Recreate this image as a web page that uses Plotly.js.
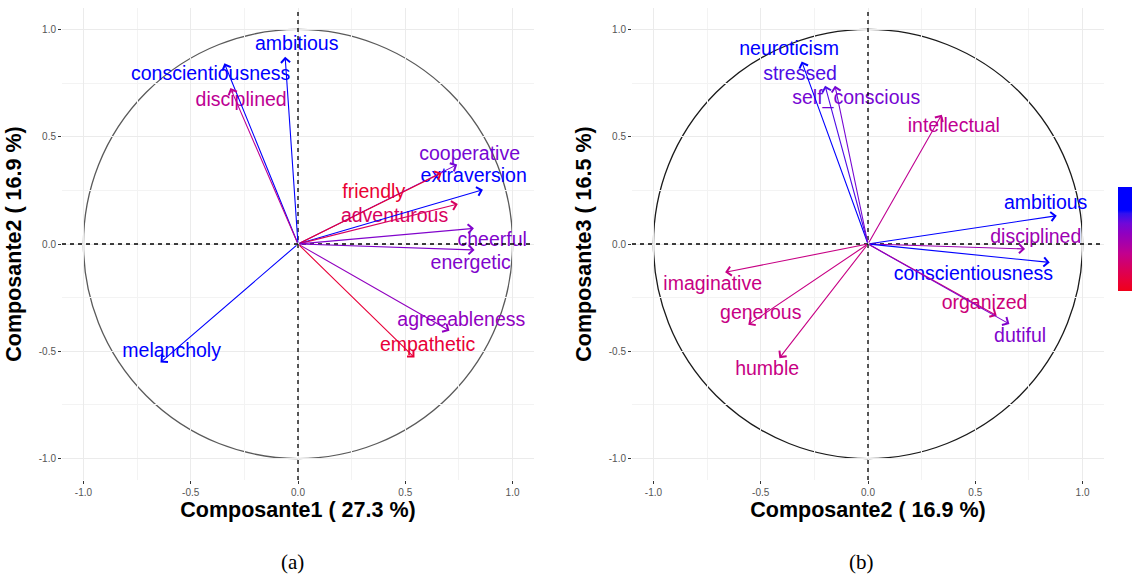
<!DOCTYPE html>
<html>
<head>
<meta charset="utf-8">
<script src="https://cdn.plot.ly/plotly-3.0.1.min.js"></script>
<style>html,body{margin:0;padding:0;background:#fff;}#chart{width:1132px;height:576px;}</style>
</head>
<body>
<div id="chart"></div>
<script>
// ---- Panel (a): Composante1 vs Composante2 ----
const namesA = ['ambitious','conscientiousness','disciplined','cooperative','friendly','extraversion','adventurous','cheerful','energetic','agreeableness','empathetic','melancholy'];
const compA1 = [-0.060,-0.343,-0.315,0.742,0.669,0.862,0.745,0.820,0.823,0.706,0.543,-0.641];
const compA2 = [0.873,0.842,0.727,0.370,0.331,0.253,0.186,0.073,-0.028,-0.404,-0.529,-0.552];
const labelAx = [-0.006,-0.407,-0.265,0.800,0.353,0.819,0.450,0.905,0.805,0.761,0.604,-0.589];
const labelAy = [0.929,0.785,0.668,0.416,0.236,0.310,0.124,0.015,-0.093,-0.358,-0.477,-0.502];
const contribA = [8.8,8.6,5.45,7.15,3.42,8.8,4.37,6.94,6.94,6.6,3.56,8.6];

// ---- Panel (b): Composante2 vs Composante3 ----
const namesB = ['neuroticism','stressed','self_conscious','intellectual','ambitious','disciplined','conscientiousness','organized','dutiful','imaginative','generous','humble'];
const compB2 = [-0.309,-0.200,-0.154,0.344,0.880,0.732,0.847,0.600,0.659,-0.666,-0.558,-0.413];
const compB3 = [0.851,0.738,0.738,0.603,0.132,-0.023,-0.086,-0.334,-0.373,-0.132,-0.376,-0.532];
const labelBx = [-0.368,-0.317,-0.055,0.400,0.828,0.782,0.491,0.543,0.709,-0.724,-0.500,-0.470];
const labelBy = [0.904,0.789,0.677,0.547,0.186,0.028,-0.145,-0.280,-0.432,-0.191,-0.326,-0.587];
const contribB = [8.8,7.62,7.15,5.38,8.8,6.27,8.8,4.91,6.94,5.11,5.11,5.11];

const axisTitles = ['Composante1 ( 27.3 %)','Composante2 ( 16.9 %)','Composante2 ( 16.9 %)','Composante3 ( 16.5 %)'];
const captions = ['(a)','(b)'];
const tickVals = [-1,-0.5,0,0.5,1];
const tickText = ['-1.0','-0.5','0.0','0.5','1.0'];
const cbTicks = [4,6,8];

const cmin = 2.88, cmax = 9.65;
const cscale = [
  [0,'#F0001A'],[0.10,'#E80038'],[0.22,'#D8005E'],[0.36,'#C2008E'],
  [0.456,'#A800A8'],[0.553,'#9000C0'],[0.65,'#7008D8'],[0.745,'#3010F0'],
  [0.78,'#0000FF'],[1,'#0000FF']
];
function hexToRgb(h){return [parseInt(h.slice(1,3),16),parseInt(h.slice(3,5),16),parseInt(h.slice(5,7),16)];}
function colorOf(v){
  let f = (v-cmin)/(cmax-cmin); f = Math.max(0,Math.min(1,f));
  for(let i=1;i<cscale.length;i++){
    if(f<=cscale[i][0]){
      const a=cscale[i-1], b=cscale[i];
      const t=(f-a[0])/(b[0]-a[0]);
      const ca=hexToRgb(a[1]), cb=hexToRgb(b[1]);
      const c=ca.map((x,k)=>Math.round(x+(cb[k]-x)*t));
      return 'rgb('+c.join(',')+')';
    }
  }
  return cscale[cscale.length-1][1];
}

const font = 'Liberation Sans, Arial, Helvetica, sans-serif';
const traces = [];
const annotations = [];
const shapes = [];

function panel(names, xs, ys, lx, ly, vals, xa, ya, showScale, circleColor){
  const cols = vals.map(colorOf);
  traces.push({
    type:'scatter', mode:'markers+text', x:lx, y:ly, text:names,
    xaxis:xa, yaxis:ya, hoverinfo:'skip', showlegend:false, cliponaxis:false,
    textposition:'middle center',
    textfont:{family:font, size:19.5, color:cols},
    marker:{size:1, opacity:0, color:vals, colorscale:cscale, cmin:cmin, cmax:cmax,
      showscale:showScale,
      colorbar:{x:1118/1132, xanchor:'left', xpad:0, ypad:0, y:(576-239)/576, yanchor:'middle',
        len:104, lenmode:'pixels', thickness:24, outlinewidth:0,
        tickvals:cbTicks, ticks:'inside', tickcolor:'#ffffff', ticklen:5,
        showticklabels:false}}
  });
  const xr = xa==='x' ? 'x' : 'x2';
  const yr = ya==='y' ? 'y' : 'y2';
  for(let i=0;i<names.length;i++){
    annotations.push({x:xs[i], y:ys[i], ax:0, ay:0, xref:xr, yref:yr, axref:xr, ayref:yr,
      text:'', showarrow:true, arrowhead:4, arrowsize:1.6, arrowwidth:1.1,
      arrowcolor:cols[i], standoff:0, startstandoff:0});
  }
  shapes.push({type:'circle', xref:xr, yref:yr, x0:-1, x1:1, y0:-1, y1:1,
    line:{color:circleColor, width:1.3}, layer:'below'});
  shapes.push({type:'line', xref:xr, yref:yr+' domain', x0:0, x1:0, y0:0, y1:1,
    line:{color:'#000', width:1.3, dash:'4px,4px'}, layer:'above'});
  shapes.push({type:'line', xref:xr+' domain', yref:yr, x0:0, x1:1, y0:0, y1:0,
    line:{color:'#000', width:1.3, dash:'4px,4px'}, layer:'above'});
}

panel(namesA, compA1, compA2, labelAx, labelAy, contribA, 'x', 'y', false, '#5a5a5a');
panel(namesB, compB2, compB3, labelBx, labelBy, contribB, 'x2', 'y2', true, '#1a1a1a');

function axis(title, domain, anchor, isY){
  return {
    domain:domain, anchor:anchor, range:[-1.1,1.1],
    tickvals:tickVals, ticktext:tickText,
    ticks:'outside', ticklen:3, tickwidth:1, tickcolor:'#333',
    tickfont:{family:font, size:10, color:'#555'},
    showgrid:true, gridcolor:'#ebebeb', gridwidth:1,
    minor:{tickvals:[-0.75,-0.25,0.25,0.75], showgrid:true, gridcolor:'#f3f3f3', gridwidth:1, ticks:''},
    zeroline:false, showline:false, fixedrange:true, automargin:false,
    title:{text:title, font:{family:font, size:21.5, color:'#000', weight:'bold'}, standoff: isY?11:4}
  };
}

const yDom = [(576-480)/576, (576-8)/576];
const layout = {
  width:1132, height:576,
  margin:{l:0,r:0,t:0,b:0, autoexpand:false},
  paper_bgcolor:'#fff', plot_bgcolor:'#fff',
  xaxis: axis(axisTitles[0], [62/1132, 534/1132], 'y', false),
  yaxis: axis(axisTitles[1], yDom, 'x', true),
  xaxis2: axis(axisTitles[2], [632/1132, 1104/1132], 'y2', false),
  yaxis2: axis(axisTitles[3], yDom, 'x2', true),
  shapes: shapes,
  annotations: annotations.concat([
    {text:captions[0], xref:'paper', yref:'paper', x:292/1132, y:(576-562)/576, showarrow:false,
     xanchor:'center', yanchor:'middle', font:{family:'Liberation Serif, Times New Roman, serif', size:21, color:'#000'}},
    {text:captions[1], xref:'paper', yref:'paper', x:861/1132, y:(576-562)/576, showarrow:false,
     xanchor:'center', yanchor:'middle', font:{family:'Liberation Serif, Times New Roman, serif', size:21, color:'#000'}}
  ]),
  showlegend:false
};

Plotly.newPlot('chart', traces, layout, {displayModeBar:false, staticPlot:true});
</script>
</body>
</html>
